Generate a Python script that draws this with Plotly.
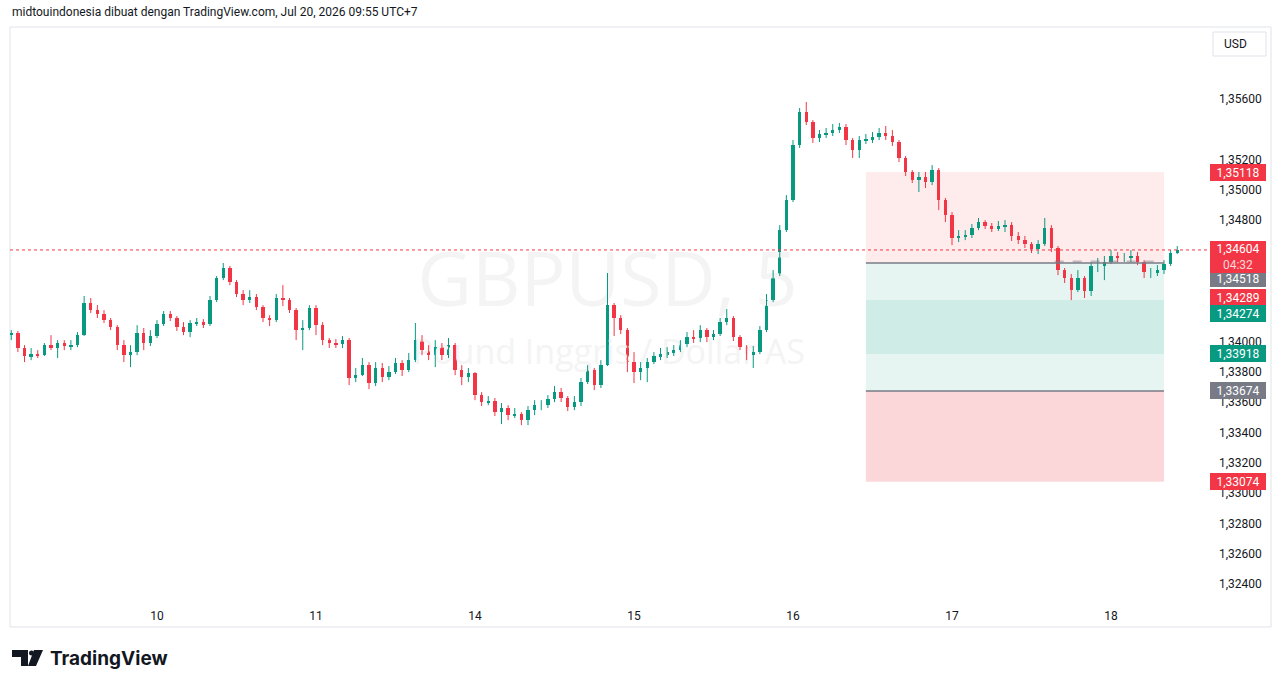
import plotly.graph_objects as go

# ---------------- data (hourly candles) ----------------
first_open = 1.34042
close = [
    1.34056, 1.33957, 1.33904, 1.33917, 1.33910, 1.33976, 1.33957, 1.33990, 1.33970, 1.33976,
    1.34042, 1.34254, 1.34207, 1.34181, 1.34141, 1.34095, 1.33976, 1.33910, 1.33930, 1.34056,
    1.33990, 1.34036, 1.34115, 1.34181, 1.34155, 1.34095, 1.34062, 1.34122, 1.34128, 1.34115,
    1.34273, 1.34419, 1.34485, 1.34392, 1.34313, 1.34273, 1.34293, 1.34227, 1.34155, 1.34141,
    1.34287, 1.34273, 1.34207, 1.34075, 1.34089, 1.34221, 1.34108, 1.34009, 1.33990, 1.33983,
    1.34009, 1.33759, 1.33778, 1.33844, 1.33726, 1.33825, 1.33765, 1.33798, 1.33858, 1.33811,
    1.33877, 1.34009, 1.33943, 1.33910, 1.33963, 1.33910, 1.33976, 1.33811, 1.33765, 1.33792,
    1.33646, 1.33600, 1.33607, 1.33534, 1.33561, 1.33514, 1.33521, 1.33481, 1.33547, 1.33580,
    1.33580, 1.33620, 1.33666, 1.33627, 1.33567, 1.33600, 1.33732, 1.33811, 1.33712, 1.33844,
    1.34240, 1.34155, 1.34075, 1.33864, 1.33798, 1.33825, 1.33864, 1.33904, 1.33917, 1.33930,
    1.33943, 1.33983, 1.34029, 1.34023, 1.34075, 1.34029, 1.34049, 1.34128, 1.34155, 1.34029,
    1.33963, 1.33917, 1.33930, 1.34075, 1.34273, 1.34438, 1.34735, 1.34933, 1.35296, 1.35514,
    1.35448, 1.35343, 1.35369, 1.35376, 1.35395, 1.35415, 1.35329, 1.35263, 1.35329, 1.35336,
    1.35349, 1.35376, 1.35356, 1.35316, 1.35211, 1.35118, 1.35065, 1.35085, 1.35052, 1.35131,
    1.34933, 1.34834, 1.34683, 1.34696, 1.34702, 1.34749, 1.34788, 1.34762, 1.34742, 1.34762,
    1.34768, 1.34696, 1.34669, 1.34643, 1.34610, 1.34643, 1.34749, 1.34617, 1.34471, 1.34419,
    1.34339, 1.34419, 1.34333, 1.34498, 1.34498, 1.34524, 1.34564, 1.34551, 1.34551, 1.34564,
    1.34524, 1.34458, 1.34458, 1.34471, 1.34511, 1.34584, 1.34604,
]
high = [
    1.34075, 1.34069, 1.33976, 1.33957, 1.33943, 1.33990, 1.34042, 1.34009, 1.34009, 1.34009,
    1.34062, 1.34300, 1.34287, 1.34240, 1.34207, 1.34155, 1.34108, 1.34009, 1.33976, 1.34108,
    1.34089, 1.34075, 1.34141, 1.34201, 1.34201, 1.34168, 1.34128, 1.34141, 1.34155, 1.34148,
    1.34300, 1.34432, 1.34518, 1.34498, 1.34405, 1.34339, 1.34339, 1.34313, 1.34240, 1.34174,
    1.34313, 1.34372, 1.34287, 1.34221, 1.34141, 1.34240, 1.34240, 1.34128, 1.34023, 1.34016,
    1.34036, 1.34023, 1.33825, 1.33891, 1.33864, 1.33864, 1.33858, 1.33838, 1.33891, 1.33877,
    1.33924, 1.34122, 1.34042, 1.33976, 1.34009, 1.33990, 1.34023, 1.33990, 1.33844, 1.33825,
    1.33798, 1.33666, 1.33640, 1.33627, 1.33594, 1.33580, 1.33561, 1.33534, 1.33574, 1.33613,
    1.33613, 1.33646, 1.33706, 1.33693, 1.33640, 1.33640, 1.33759, 1.33844, 1.33825, 1.33877,
    1.34452, 1.34254, 1.34174, 1.34089, 1.33930, 1.33864, 1.33891, 1.33930, 1.33957, 1.33963,
    1.33976, 1.34009, 1.34062, 1.34075, 1.34108, 1.34089, 1.34075, 1.34155, 1.34214, 1.34168,
    1.34042, 1.33976, 1.33970, 1.34102, 1.34313, 1.34471, 1.34768, 1.34966, 1.35329, 1.35541,
    1.35580, 1.35461, 1.35395, 1.35409, 1.35435, 1.35442, 1.35435, 1.35343, 1.35356, 1.35369,
    1.35382, 1.35409, 1.35422, 1.35395, 1.35329, 1.35224, 1.35131, 1.35118, 1.35118, 1.35164,
    1.35145, 1.34947, 1.34854, 1.34735, 1.34735, 1.34775, 1.34815, 1.34801, 1.34782, 1.34795,
    1.34801, 1.34788, 1.34722, 1.34696, 1.34656, 1.34669, 1.34815, 1.34768, 1.34630, 1.34485,
    1.34445, 1.34471, 1.34432, 1.34524, 1.34551, 1.34564, 1.34603, 1.34590, 1.34584, 1.34603,
    1.34590, 1.34537, 1.34485, 1.34504, 1.34537, 1.34603, 1.34630,
]
low = [
    1.34009, 1.33930, 1.33864, 1.33877, 1.33891, 1.33904, 1.33943, 1.33891, 1.33943, 1.33943,
    1.33963, 1.34036, 1.34188, 1.34155, 1.34122, 1.34075, 1.33943, 1.33864, 1.33831, 1.33910,
    1.33943, 1.33970, 1.34023, 1.34102, 1.34135, 1.34069, 1.34042, 1.34029, 1.34102, 1.34089,
    1.34102, 1.34260, 1.34405, 1.34372, 1.34293, 1.34240, 1.34254, 1.34207, 1.34128, 1.34102,
    1.34128, 1.34234, 1.34188, 1.34009, 1.33943, 1.34075, 1.34042, 1.33976, 1.33957, 1.33957,
    1.33957, 1.33712, 1.33732, 1.33772, 1.33686, 1.33706, 1.33732, 1.33745, 1.33785, 1.33772,
    1.33798, 1.33864, 1.33910, 1.33877, 1.33831, 1.33877, 1.33891, 1.33778, 1.33712, 1.33732,
    1.33613, 1.33574, 1.33580, 1.33508, 1.33455, 1.33481, 1.33495, 1.33448, 1.33448, 1.33514,
    1.33547, 1.33561, 1.33600, 1.33600, 1.33541, 1.33547, 1.33574, 1.33719, 1.33679, 1.33693,
    1.33838, 1.34036, 1.34049, 1.33798, 1.33726, 1.33745, 1.33732, 1.33851, 1.33877, 1.33891,
    1.33904, 1.33930, 1.33963, 1.33990, 1.33996, 1.33996, 1.34009, 1.34036, 1.34108, 1.34003,
    1.33943, 1.33877, 1.33825, 1.33917, 1.34062, 1.34260, 1.34432, 1.34722, 1.34920, 1.35277,
    1.35428, 1.35310, 1.35316, 1.35343, 1.35356, 1.35376, 1.35296, 1.35211, 1.35211, 1.35303,
    1.35310, 1.35329, 1.35329, 1.35290, 1.35184, 1.35092, 1.35046, 1.34986, 1.35013, 1.35032,
    1.34867, 1.34788, 1.34636, 1.34656, 1.34669, 1.34683, 1.34735, 1.34742, 1.34722, 1.34729,
    1.34722, 1.34663, 1.34643, 1.34617, 1.34584, 1.34577, 1.34630, 1.34590, 1.34438, 1.34386,
    1.34273, 1.34326, 1.34287, 1.34300, 1.34458, 1.34405, 1.34511, 1.34524, 1.34524, 1.34524,
    1.34504, 1.34419, 1.34419, 1.34432, 1.34445, 1.34498, 1.34577,
]
first_hour = 2  # bar index (hours) of the first candle

day_tick_hours = [24, 48, 72, 96, 120, 144, 168]
day_tick_text = ["10", "11", "14", "15", "16", "17", "18"]

price_ticks = [1.356, 1.352, 1.350, 1.348, 1.340, 1.338, 1.336, 1.334,
               1.332, 1.330, 1.328, 1.326, 1.324]

last_price = 1.34604
countdown = "04:32"

# position tools (short + long)
short_entry, short_stop, short_target = 1.34518, 1.35118, 1.33918
long_entry, long_stop, long_target = 1.33674, 1.33074, 1.34274
pnl_price = 1.34289
pos_start_h, pos_end_h = 131.0, 176.0
pnl_line_price = 1.34528
pnl_line_start_h, pnl_line_end_h = 159.5, 175.6

symbol_text = "GBPUSD, 5"
symbol_desc = "Pound Inggris / Dollar AS"
header_text = "midtouindonesia dibuat dengan TradingView.com, Jul 20, 2026 09:55 UTC+7"

# ---------------- styling ----------------
UP = "#089981"
DOWN = "#F23645"
GRAY = "#787B86"
TXT = "#131722"
FONT = "Roboto, Liberation Sans, sans-serif"

W_PX, H_PX = 1281, 688
L, R, T, B = 10, 1208, 27, 600
PW, PH = R - L, B - T

X_RANGE = [1.811, 182.64]
Y_RANGE = [1.322944, 1.360751]


def ppx(x):
    return (x - L) / PW


def ppy(y):
    return (B - y) / PH


def fmt(v):
    return f"{v:.5f}".replace(".", ",")


hours = list(range(first_hour, first_hour + len(close)))
opens = [first_open] + close[:-1]

fig = go.Figure()

# watermark (below candles)
fig.add_trace(go.Scatter(
    x=[92.0], y=[1.34360], mode="text", text=[symbol_text],
    textfont=dict(size=75, color="#f4f4f4", family="Open Sans"),
    hoverinfo="skip"))
fig.add_trace(go.Scatter(
    x=[92.2], y=[1.33905], mode="text", text=[symbol_desc],
    textfont=dict(size=34, color="#f4f4f4", family="Open Sans"),
    hoverinfo="skip"))

# wicks
for is_up, col in ((True, UP), (False, DOWN)):
    wx, wy = [], []
    for h, o, hi, lo, c in zip(hours, opens, high, low, close):
        if (c >= o) == is_up:
            wx += [h, h, None]
            wy += [lo, hi, None]
    fig.add_trace(go.Scatter(x=wx, y=wy, mode="lines",
                             line=dict(color=col, width=1),
                             hoverinfo="skip"))

# bodies
bases = [min(o, c) for o, c in zip(opens, close)]
sizes = [abs(c - o) for o, c in zip(opens, close)]
cols = [UP if c >= o else DOWN for o, c in zip(opens, close)]
fig.add_trace(go.Bar(x=hours, y=sizes, base=bases, width=0.5,
                     marker=dict(color=cols, line=dict(width=0)),
                     hoverinfo="skip"))

shapes = []
# position tool zones
shapes.append(dict(type="rect", xref="x", yref="y", x0=pos_start_h, x1=pos_end_h,
                   y0=short_entry, y1=short_stop, fillcolor="rgba(242,54,69,0.10)",
                   line=dict(width=0), layer="below"))
shapes.append(dict(type="rect", xref="x", yref="y", x0=pos_start_h, x1=pos_end_h,
                   y0=short_target, y1=short_entry, fillcolor="rgba(8,153,129,0.10)",
                   line=dict(width=0), layer="below"))
shapes.append(dict(type="rect", xref="x", yref="y", x0=pos_start_h, x1=pos_end_h,
                   y0=long_entry, y1=long_target, fillcolor="rgba(8,153,129,0.10)",
                   line=dict(width=0), layer="below"))
shapes.append(dict(type="rect", xref="x", yref="y", x0=pos_start_h, x1=pos_end_h,
                   y0=long_stop, y1=long_entry, fillcolor="rgba(242,54,69,0.20)",
                   line=dict(width=0), layer="below"))
for pr in (short_entry, long_entry):
    shapes.append(dict(type="line", xref="x", yref="y", x0=pos_start_h, x1=pos_end_h,
                       y0=pr, y1=pr, line=dict(color=GRAY, width=1.5)))
shapes.append(dict(type="line", xref="x", yref="y", x0=pnl_line_start_h, x1=pnl_line_end_h,
                   y0=pnl_line_price, y1=pnl_line_price,
                   line=dict(color="rgba(120,123,134,0.45)", width=2, dash="dash")))
# current price dotted line
shapes.append(dict(type="line", xref="paper", yref="y", x0=0, x1=1,
                   y0=last_price, y1=last_price,
                   line=dict(color=DOWN, width=1, dash="dot")))
# pane border
shapes.append(dict(type="rect", xref="paper", yref="paper",
                   x0=ppx(10), x1=ppx(1271), y0=ppy(627), y1=ppy(27),
                   line=dict(color="#e0e3eb", width=1), fillcolor="rgba(0,0,0,0)",
                   layer="below"))
# USD button
shapes.append(dict(type="rect", xref="paper", yref="paper",
                   x0=ppx(1213), x1=ppx(1266), y0=ppy(56), y1=ppy(32),
                   line=dict(color="#e0e3eb", width=1), fillcolor="white"))
# TradingView logo glyphs
logo_paths = [
    [(12, 650), (28, 650), (28, 666), (21, 666), (21, 657), (12, 657)],
    [(34, 650), (43, 650), (36, 666), (28, 666)],
]
for pts in logo_paths:
    d = "M " + " L ".join(f"{ppx(x):.5f},{ppy(y):.5f}" for x, y in pts) + " Z"
    shapes.append(dict(type="path", xref="paper", yref="paper", path=d,
                       fillcolor=TXT, line=dict(width=0)))
shapes.append(dict(type="circle", xref="paper", yref="paper",
                   x0=ppx(29), x1=ppx(34), y0=ppy(655.5), y1=ppy(650.5),
                   fillcolor=TXT, line=dict(width=0)))

annotations = []
annotations.append(dict(xref="paper", yref="paper", x=ppx(10), y=ppy(12),
                        xanchor="left", yanchor="middle", showarrow=False,
                        text=header_text, font=dict(size=12, color=TXT, family=FONT)))
annotations.append(dict(xref="paper", yref="paper", x=ppx(1222), y=ppy(44),
                        xanchor="left", yanchor="middle", showarrow=False,
                        text="USD", font=dict(size=12, color=TXT, family=FONT)))
annotations.append(dict(xref="paper", yref="paper", x=ppx(48), y=ppy(658),
                        xanchor="left", yanchor="middle", showarrow=False,
                        text="<b>TradingView</b>",
                        font=dict(size=19, color=TXT, family="Inter")))

# right price-scale labels
label_x = ppx(1210)
scale_labels = [
    (short_stop, DOWN, 0),
    (short_entry, GRAY, -16),
    (pnl_price, DOWN, 0),
    (long_target, UP, -14),
    (short_target, UP, 0),
    (long_entry, GRAY, 0),
    (long_stop, DOWN, 0),
]
for pr, col, shift in scale_labels:
    annotations.append(dict(xref="paper", yref="y", x=label_x, y=pr, yshift=shift,
                            xanchor="left", yanchor="middle", showarrow=False,
                            text=fmt(pr), width=52, height=13, borderpad=2,
                            bgcolor=col, borderwidth=0, align="center",
                            font=dict(size=12, color="white", family=FONT)))
annotations.append(dict(xref="paper", yref="y", x=label_x, y=last_price, yshift=-7,
                        xanchor="left", yanchor="middle", showarrow=False,
                        text=fmt(last_price) + "<br><span style='color:rgba(255,255,255,0.8)'>"
                        + countdown + "</span>",
                        width=52, height=28, borderpad=2, bgcolor=DOWN, borderwidth=0,
                        align="center", font=dict(size=12, color="white", family=FONT)))

fig.update_layout(
    width=W_PX, height=H_PX,
    margin=dict(l=L, r=W_PX - R, t=T, b=H_PX - B, pad=0),
    paper_bgcolor="white", plot_bgcolor="white",
    showlegend=False, hovermode=False, barmode="overlay", bargap=0,
    shapes=shapes, annotations=annotations,
    xaxis=dict(range=X_RANGE, showgrid=False, zeroline=False, showline=False,
               tickmode="array", tickvals=day_tick_hours, ticktext=day_tick_text,
               ticks="", ticklabelstandoff=7,
               tickfont=dict(size=12, color=TXT, family=FONT), fixedrange=True),
    yaxis=dict(range=Y_RANGE, side="right", showgrid=False, zeroline=False,
               showline=False, tickmode="array", tickvals=price_ticks,
               ticktext=[fmt(v) for v in price_ticks], ticks="",
               ticklabelstandoff=10,
               tickfont=dict(size=12, color=TXT, family=FONT), fixedrange=True),
)

fig.write_html("out.html", config={"displayModeBar": False})
